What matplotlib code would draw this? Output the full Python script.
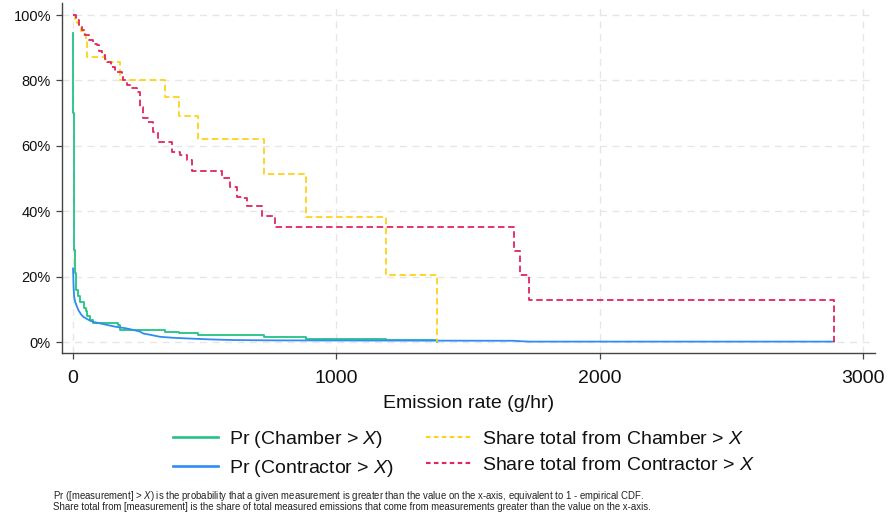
import matplotlib
matplotlib.use("Agg")
import matplotlib.pyplot as plt
from matplotlib.ticker import FuncFormatter
from matplotlib.lines import Line2D

plt.rcParams['font.family'] = ['Liberation Sans', 'DejaVu Sans']
plt.rcParams['mathtext.fontset'] = 'custom'
plt.rcParams['mathtext.it'] = 'Liberation Sans:italic'
plt.rcParams['mathtext.rm'] = 'Liberation Sans'

# ---------------- data ----------------
# Pr(Chamber > X), percent
chamber_pr_x = [0, 1, 2, 3, 4, 6, 11, 18, 27, 40, 50, 54, 65, 77, 172, 178, 349, 404, 476, 727, 885, 1188, 1381]
chamber_pr_y = [94.5, 70, 50, 38, 28, 21, 16, 14, 12.3, 10.5, 9.5, 8, 6.7, 5.8, 5.26, 3.68, 3.16, 2.63, 2.1, 1.58, 1.05, 0.53, 0]

# Pr(Contractor > X), percent
contractor_pr_x = [0, 2, 4, 8, 14, 20, 30, 39, 54, 65, 80, 103, 130, 160, 200, 229, 254, 267, 300, 330, 380,
                   432, 520, 609, 767, 1676, 1698, 1733, 2890]
contractor_pr_y = [22.5, 17, 13.9, 12.3, 11, 9.8, 8.5, 7.7, 7.0, 6.5, 6.1, 5.7, 5.2, 4.7, 4.2, 3.7, 3.2, 2.6, 2.1,
                   1.6, 1.3, 1.1, 0.8, 0.6, 0.5, 0.375, 0.25, 0.125, 0.125]

# Share total from Chamber > X, percent
chamber_share_x = [0, 8, 16, 24, 32, 40, 48, 54, 122, 180, 349, 404, 476, 727, 885, 1188, 1381]
chamber_share_y = [100, 98.8, 97.6, 96.4, 95.2, 94, 92.5, 87.3, 85.7, 80.1, 75, 69.1, 62.1, 51.4, 38.1, 20.5, 0]

# Share total from Contractor > X, percent
contractor_share_x = [0, 12, 24, 35, 46, 60, 75, 90, 100, 109, 120, 128, 145, 159, 185, 191, 205, 216, 242, 254,
                      267, 286, 305, 324, 375, 406, 432, 451, 566, 596, 622, 640, 660, 716, 767, 1676, 1698, 1733,
                      2890]
contractor_share_y = [100, 98.5, 97, 95.5, 93.9, 92.5, 91.3, 90.8, 89, 87.8, 86.5, 85.7, 84, 82.7, 81.6, 80.1,
                      78.5, 77.6, 76.5, 72, 68.4, 67.4, 64.3, 61.3, 58.2, 57.2, 55.7, 52.3, 50.1, 47.5, 44.4,
                      43.9, 41.7, 38.5, 35.2, 27.9, 20.4, 12.8, 0]

x_ticks = [0, 1000, 2000, 3000]
y_ticks = [0, 20, 40, 60, 80, 100]

labels = ["Pr (Chamber > $X$)", "Pr (Contractor > $X$)",
          "Share total from Chamber > $X$", "Share total from Contractor > $X$"]
colors = ["#24c285", "#2f8cf5", "#ffd21a", "#e2255c"]

xlabel = "Emission rate (g/hr)"
note1 = "Pr ([measurement] > $X$) is the probability that a given measurement is greater than the value on the x-axis, equivalent to 1 - empirical CDF."
note2 = "Share total from [measurement] is the share of total measured emissions that come from measurements greater than the value on the x-axis."

# ---------------- figure ----------------
W, H = 888, 520
fig = plt.figure(figsize=(W / 100, H / 100), dpi=100)
ax = fig.add_axes([62 / W, 1 - 353 / H, (875 - 62) / W, (353 - 3) / H])

lw = 1.3
dash = (3.6, 2.0)
ax.plot(chamber_pr_x, chamber_pr_y, color=colors[0], lw=lw, drawstyle='steps-post', zorder=3)
ax.plot(contractor_pr_x, contractor_pr_y, color=colors[1], lw=lw, zorder=3)
ax.plot(chamber_share_x, chamber_share_y, color=colors[2], lw=lw, drawstyle='steps-post',
        dashes=dash, zorder=3)
ax.plot(contractor_share_x, contractor_share_y, color=colors[3], lw=lw, drawstyle='steps-post',
        dashes=dash, zorder=3)

ax.set_xlim(-42, 3046)
ax.set_ylim(-3.36, 103.7)
ax.set_xticks(x_ticks)
ax.set_yticks(y_ticks)
ax.yaxis.set_major_formatter(FuncFormatter(lambda v, p: f"{int(v)}%"))

ax.grid(True, color="#e6e6e6", lw=1.0, dashes=(5, 4))
ax.set_axisbelow(True)
for s in ["top", "right"]:
    ax.spines[s].set_visible(False)
for s in ["left", "bottom"]:
    ax.spines[s].set_color("#444444")
    ax.spines[s].set_linewidth(1.0)

ax.tick_params(axis='x', length=4, width=0.9, color="#444444", labelsize=14, pad=8, labelcolor="#111111")
ax.tick_params(axis='y', length=4, width=0.9, color="#444444", labelsize=10.5, pad=4, labelcolor="#111111")
ax.set_xlabel(xlabel, fontsize=14, labelpad=6, color="#111111")

handles = [
    Line2D([], [], color=colors[0], lw=1.9),
    Line2D([], [], color=colors[1], lw=1.9),
    Line2D([], [], color=colors[2], lw=1.5, dashes=(2.2, 1.6)),
    Line2D([], [], color=colors[3], lw=1.5, dashes=(2.2, 1.6)),
]
leg = fig.legend(handles, labels, ncol=2, loc='center', bbox_to_anchor=(464 / W, 1 - 454 / H),
                 frameon=False, fontsize=14, handlelength=2.3, handletextpad=0.57,
                 columnspacing=1.65, labelspacing=0.42)
for t in leg.get_texts():
    t.set_color("#111111")

fig.text(53 / W, 1 - 496 / H, note1, fontsize=6.9, ha='left', va='center', color="#222222")
fig.text(53 / W, 1 - 507 / H, note2, fontsize=6.9, ha='left', va='center', color="#222222")

fig.savefig("out.png", dpi=100)
